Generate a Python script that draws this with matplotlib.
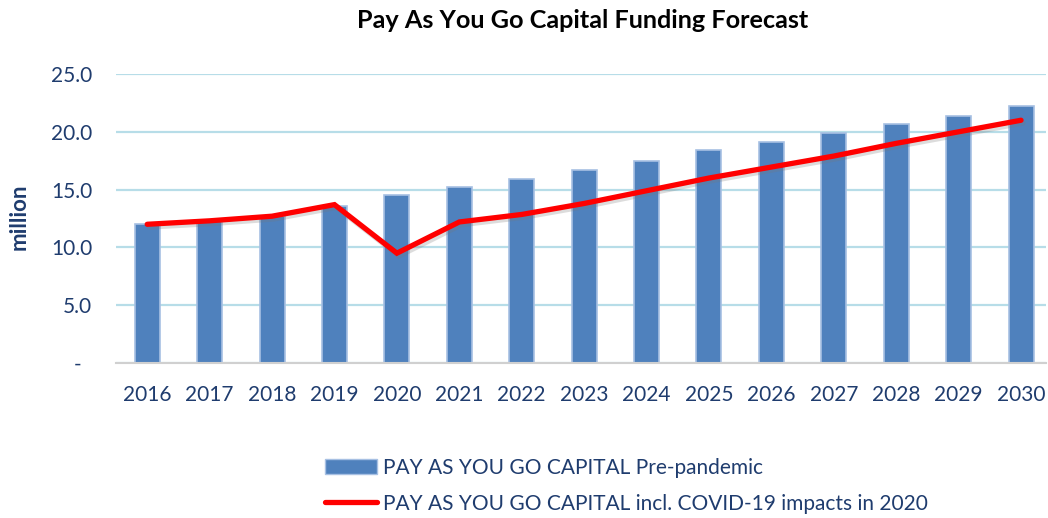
import matplotlib
matplotlib.use("Agg")
import matplotlib.pyplot as plt
import matplotlib.patheffects as pe
from matplotlib.lines import Line2D
from matplotlib.patches import Patch
import numpy as np

years = ["2016", "2017", "2018", "2019", "2020", "2021", "2022", "2023",
         "2024", "2025", "2026", "2027", "2028", "2029", "2030"]
pre_pandemic = [12.0, 12.25, 12.7, 13.6, 14.5, 15.2, 15.9, 16.7,
                17.5, 18.4, 19.1, 19.9, 20.7, 21.4, 22.2]
covid = [12.0, 12.3, 12.7, 13.7, 9.5, 12.2, 12.85, 13.8,
         14.9, 16.0, 16.95, 17.9, 19.0, 20.0, 21.0]
yticks = [0, 5, 10, 15, 20, 25]
ytick_labels = ["-  ", "5.0", "10.0", "15.0", "20.0", "25.0"]

plt.rcParams['font.family'] = ['Lato', 'DejaVu Sans']
text_color = "#1F3C6E"

fig = plt.figure(figsize=(10.48, 5.18), dpi=100)
W, H = 1048, 518
ax = fig.add_axes([116 / W, 1 - 363 / H, (1046 - 116) / W, (363 - 74) / H])

x = np.arange(len(years))
ax.bar(x, pre_pandemic, width=0.4, color="#4F81BD", edgecolor="#A7C0E3",
       linewidth=1.2, zorder=2)
ax.plot(x, covid, color="#FF0000", linewidth=3.8, solid_capstyle="round",
        solid_joinstyle="miter", zorder=3,
        path_effects=[pe.SimpleLineShadow(offset=(1.5, -2), shadow_color="#777777", alpha=0.25),
                      pe.Normal()])

ax.set_xlim(-0.5, 14.4)
ax.set_ylim(0, 25)
ax.set_yticks(yticks)
ax.set_yticklabels(ytick_labels)
ax.set_xticks(x)
ax.set_xticklabels(years)
ax.tick_params(axis="both", length=0, labelsize=15, colors=text_color)
ax.tick_params(axis="y", pad=17)
ax.tick_params(axis="x", pad=16)

ax.grid(axis="y", color="#B7DDE8", linewidth=1.6, zorder=0)
ax.set_axisbelow(True)
for s in ["top", "right", "left"]:
    ax.spines[s].set_visible(False)
ax.spines["bottom"].set_color("#D0D0D0")
ax.spines["bottom"].set_linewidth(1.5)

fig.text(583 / W, 1 - 21 / H, "Pay As You Go Capital Funding Forecast",
         ha="center", va="center", fontsize=18.2, fontweight="bold", color="black")
fig.text(19 / W, 1 - 217 / H, "million", rotation=90, ha="center", va="center",
         fontsize=16, fontweight="bold", color=text_color)

handles = [Patch(facecolor="#4F81BD", edgecolor="#A7C0E3", linewidth=1.0),
           Line2D([0], [0], color="#FF0000", linewidth=3.8, solid_capstyle="round")]
labels = ["PAY AS YOU GO CAPITAL Pre-pandemic",
          "PAY AS YOU GO CAPITAL incl. COVID-19 impacts in 2020"]
leg = fig.legend(handles, labels, loc="upper left",
                 bbox_to_anchor=(325 / W, 1 - 458 / H), frameon=False,
                 fontsize=15, handlelength=2.5, handletextpad=0.3,
                 labelspacing=0.75, borderaxespad=0, borderpad=0)
for t in leg.get_texts():
    t.set_color(text_color)

fig.savefig("out.png", dpi=100)
